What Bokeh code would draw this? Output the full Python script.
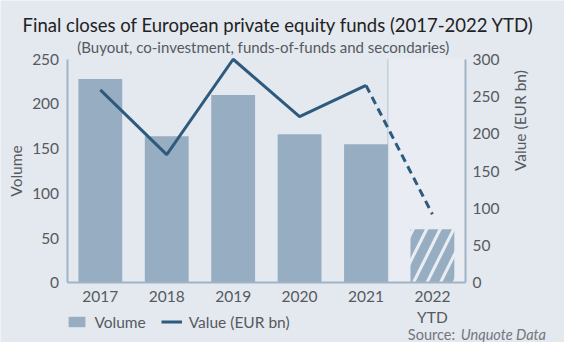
import math
from bokeh.plotting import figure
from bokeh.models import Range1d, LinearAxis, FixedTicker, Label, Legend, LegendItem
from bokeh.embed import file_html
from bokeh.resources import INLINE

# ---- data ----
years = ["2017", "2018", "2019", "2020", "2021", "2022\nYTD"]
volume = [228, 164, 210, 166, 155, 60]
value_eur = [259, 172, 300, 223, 265, 92]
vol_ticks = [0, 50, 100, 150, 200, 250]
val_ticks = [0, 50, 100, 150, 200, 250, 300]

# ---- style ----
BG = "#e4e8ef"
BOX = "#e9edf3"
BAR = "#97aec2"
LINE = "#2e5a7d"
AX = "#9fb3c5"
TXT = "#555a60"
FONT = "Lato"

W, H = 564, 342
SX, SY = W / 580, H / 358          # reference-layout -> canvas scale


def cx(v):
    return v * SX


def cy(v):
    return v * SY


# plotting area inside the canvas (pixels)
PX_L, PX_R, PX_T, PX_B = cx(68.5), cx(478.3), cy(61.5), cy(295.5)

n = len(years)
kx = (PX_R - PX_L) / n
ky = (PX_B - PX_T) / vol_ticks[-1]
kv = (PX_B - PX_T) / val_ticks[-1]

xs = [i + 0.5 for i in range(n)]
bw = 0.66

p = figure(width=W, height=H,
           x_range=Range1d(-PX_L / kx, n + (W - PX_R) / kx),
           y_range=Range1d(-(H - PX_B) / ky, vol_ticks[-1] + PX_T / ky),
           output_backend="svg", toolbar_location=None, min_border=0,
           background_fill_color=BG, border_fill_color=BG, outline_line_color=None)
p.extra_y_ranges = {"val": Range1d(-(H - PX_B) / kv, val_ticks[-1] + PX_T / kv)}
p.grid.visible = False
p.title.visible = False

# lighter YTD column box
box_left = xs[-2] + bw / 2
p.quad(left=[box_left], right=[n], bottom=[0], top=[vol_ticks[-1]], fill_color=BOX, line_color=None)
p.segment(x0=[box_left], y0=[0], x1=[box_left], y1=[vol_ticks[-1]], line_color="#b5c4d2", line_width=1)

bars = p.vbar(x=xs[:-1], top=volume[:-1], width=bw, fill_color=BAR, line_color=None)
p.vbar(x=xs[-1:], top=volume[-1:], width=bw, fill_alpha=0, line_color=None,
       hatch_pattern="/", hatch_color=BAR, hatch_weight=9, hatch_scale=27)

ln = p.line(x=xs[:-1], y=value_eur[:-1], line_color=LINE, line_width=3, y_range_name="val")
p.line(x=xs[-2:], y=value_eur[-2:], line_color=LINE, line_width=3, line_dash="8 5", y_range_name="val")

# ---- axes (fixed at the data edges) ----
xa = p.xaxis[0]
xa.ticker = FixedTicker(ticks=xs)
xa.major_label_overrides = {x: y for x, y in zip(xs, years)}
xa.fixed_location = 0
xa.bounds = (0, n)

ya = p.yaxis[0]
ya.ticker = FixedTicker(ticks=vol_ticks)
ya.axis_label = "Volume"
ya.fixed_location = 0
ya.bounds = (0, vol_ticks[-1])

ra = LinearAxis(y_range_name="val", ticker=FixedTicker(ticks=val_ticks), axis_label="Value (EUR bn)",
                fixed_location=n, bounds=(0, val_ticks[-1]))
p.add_layout(ra, "right")
if "axis_label_orientation" in LinearAxis.properties():
    ra.axis_label_orientation = math.pi / 2

for ax in [xa, ya, ra]:
    ax.axis_line_color = AX
    ax.axis_line_width = 2
    ax.major_tick_line_color = None
    ax.minor_tick_line_color = None
    ax.major_tick_out = 0
    ax.major_tick_in = 0
    ax.major_label_text_font = FONT
    ax.major_label_text_font_size = "15.5px"
    ax.major_label_text_color = TXT
    ax.axis_label_text_font = FONT
    ax.axis_label_text_font_size = "15.5px"
    ax.axis_label_text_font_style = "normal"
    ax.axis_label_text_color = TXT
xa.major_label_standoff = 4
ya.major_label_standoff = 8
ya.axis_label_standoff = 5
ra.major_label_standoff = 7
ra.axis_label_standoff = 18

# ---- texts ----
p.add_layout(Label(x=cx(22.7), y=H - cy(26), x_units="screen", y_units="screen",
                   text="Final closes of European private equity funds (2017-2022 YTD)",
                   text_font=FONT, text_font_size="18.5px", text_color="#222222",
                   text_align="left", text_baseline="alphabetic"))
p.add_layout(Label(x=cx(79), y=H - cy(49), x_units="screen", y_units="screen",
                   text="(Buyout, co-investment, funds-of-funds and secondaries)",
                   text_font=FONT, text_font_size="15px", text_color=TXT,
                   text_align="left", text_baseline="alphabetic"))
p.add_layout(Label(x=cx(561) - 91, y=H - cy(350), x_units="screen", y_units="screen", text="Source:",
                   text_font=FONT, text_font_size="14.5px", text_color="#72777d",
                   text_align="right", text_baseline="alphabetic"))
p.add_layout(Label(x=cx(561), y=H - cy(350), x_units="screen", y_units="screen", text="Unquote Data",
                   text_font=FONT, text_font_size="14.5px", text_color="#72777d", text_font_style="italic",
                   text_align="right", text_baseline="alphabetic"))

legend = Legend(items=[LegendItem(label="Volume", renderers=[bars]),
                       LegendItem(label="Value (EUR bn)", renderers=[ln])],
                location=(cx(68.3), H - cy(346)), orientation="horizontal",
                background_fill_alpha=0, border_line_color=None,
                label_text_font=FONT, label_text_font_size="15.5px", label_text_color=TXT,
                glyph_width=21, glyph_height=13, label_height=17, spacing=15,
                padding=0, margin=0, label_standoff=7)
p.add_layout(legend, "center")

open("out.html", "w").write(file_html(p, INLINE))
